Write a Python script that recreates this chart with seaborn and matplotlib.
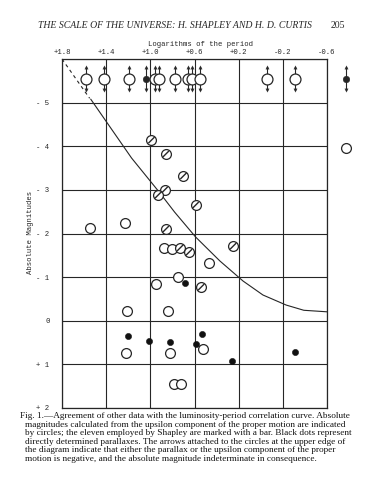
import numpy as np
import pandas as pd
import matplotlib
matplotlib.use('Agg')
import matplotlib.pyplot as plt
import seaborn as sns

# log period (x) and absolute magnitude (y)
barred_logp = [0.99, 0.86, 0.70, 0.87, 0.93, 0.59, 0.86, 0.25, 0.73, 0.65, 0.54]
barred_mag = [-4.14, -3.82, -3.32, -3.00, -2.88, -2.65, -2.10, -1.71, -1.67, -1.57, -0.77]

open_logp = [1.55, 1.23, 0.88, 0.80, 0.47, 0.75, 0.95, 1.21, 0.84, 0.52, 1.22, 0.82, 0.79, 0.72, -0.77]
open_mag = [-2.12, -2.24, -1.67, -1.64, -1.32, -1.00, -0.84, -0.22, -0.22, 0.65, 0.74, 0.74, 1.45, 1.45, -3.96]

dot_logp = [0.69, 1.20, 1.01, 0.82, 0.53, 0.59, 0.26, -0.31]
dot_mag = [-0.86, 0.35, 0.47, 0.49, 0.31, 0.54, 0.93, 0.72]

# indeterminate ones along the upper edge (arrows)
top_open_logp = [1.58, 1.42, 1.19, 0.96, 0.92, 0.78, 0.66, 0.62, 0.55, -0.06, -0.31]
top_dot_logp = [1.04, -0.77]
top_mag = -5.55

# luminosity-period curve
dash_logp = [1.80, 1.55]
dash_mag = [-6.00, -5.10]
curve_logp = [1.54, 1.17, 0.92, 0.78, 0.59, 0.37, 0.16, -0.02, -0.23, -0.39, -0.63]
curve_mag = [-5.08, -3.73, -2.95, -2.49, -1.92, -1.37, -0.91, -0.59, -0.36, -0.24, -0.20]

xticks = [1.8, 1.4, 1.0, 0.6, 0.2, -0.2, -0.6]
xlabels = ['+1.8', '+1.4', '+1.0', '+0.6', '+0.2', '-0.2', '-0.6']
yticks = [-6, -5, -4, -3, -2, -1, 0, 1, 2]
ylabels = ['', '- 5', '- 4', '- 3', '- 2', '- 1', '0', '+ 1', '+ 2']

caption = [
    'Fig. 1.\u2014Agreement of other data with the luminosity-period correlation curve. Absolute',
    'magnitudes calculated from the upsilon component of the proper motion are indicated',
    'by circles; the eleven employed by Shapley are marked with a bar. Black dots represent',
    'directly determined parallaxes. The arrows attached to the circles at the upper edge of',
    'the diagram indicate that either the parallax or the upsilon component of the proper',
    'motion is negative, and the absolute magnitude indeterminate in consequence.',
]

sns.set_theme(style="white")
ink = '#262626'
mono = 'Liberation Mono'
serif = 'Liberation Serif'

fig = plt.figure(figsize=(3.77, 4.82), dpi=100)
ax = fig.add_axes([62/377, 74/482, 265/377, 349/482])

sns.lineplot(x=dash_logp, y=dash_mag, sort=False, estimator=None, ax=ax,
             color=ink, lw=0.8, ls=(0, (3, 3)))
sns.lineplot(x=curve_logp, y=curve_mag, sort=False, estimator=None, ax=ax,
             color=ink, lw=0.8)

# arrows on the top row
top_all = top_open_logp + top_dot_logp
ax.vlines(top_all, top_mag - 0.27, top_mag + 0.27, color=ink, lw=0.8, clip_on=False, zorder=3)
sns.scatterplot(x=top_all, y=[top_mag - 0.27] * len(top_all), marker='^', s=6,
                color=ink, edgecolor=ink, ax=ax, clip_on=False, zorder=3)
sns.scatterplot(x=top_all, y=[top_mag + 0.27] * len(top_all), marker='v', s=6,
                color=ink, edgecolor=ink, ax=ax, clip_on=False, zorder=3)
sns.scatterplot(x=top_open_logp, y=[top_mag] * len(top_open_logp), marker='o', s=62,
                facecolor='white', edgecolor=ink, linewidth=0.9, ax=ax, clip_on=False, zorder=4)
sns.scatterplot(x=top_dot_logp, y=[top_mag] * len(top_dot_logp), marker='o', s=22,
                color=ink, edgecolor=ink, ax=ax, clip_on=False, zorder=4)

# circles, barred circles, dots
sns.scatterplot(x=open_logp, y=open_mag, marker='o', s=50, facecolor='white',
                edgecolor=ink, linewidth=0.9, ax=ax, clip_on=False, zorder=4)
sns.scatterplot(x=barred_logp, y=barred_mag, marker='o', s=50, facecolor='white',
                edgecolor=ink, linewidth=0.9, ax=ax, zorder=4)
sns.scatterplot(x=barred_logp, y=barred_mag, marker=[(-1, -1), (1, 1)], s=20,
                facecolor='none', edgecolor=ink, linewidth=1.0, ax=ax, zorder=5)
sns.scatterplot(x=dot_logp, y=dot_mag, marker='o', s=20, color='#111111',
                edgecolor='#111111', ax=ax, zorder=5)

ax.set_xlim(1.8, -0.6)
ax.set_ylim(2, -6)
ax.xaxis.tick_top()
ax.set_xticks(xticks)
ax.set_xticklabels(xlabels, fontfamily=mono, fontsize=5.2, color=ink)
ax.set_yticks(yticks)
ax.set_yticklabels(ylabels, fontfamily=mono, fontsize=5.2, color=ink)
ax.tick_params(axis='x', length=0, pad=2)
ax.tick_params(axis='y', length=0, pad=9)
ax.grid(True, color=ink, lw=0.8)
ax.set_axisbelow(True)
for sp in ax.spines.values():
    sp.set_color(ink)
    sp.set_linewidth(0.9)
ax.set_xlabel('')
ax.set_ylabel('')

fig.text(38/377, 1 - 25/482, 'THE SCALE OF THE UNIVERSE: H. SHAPLEY AND H. D. CURTIS',
         fontfamily=serif, style='italic', fontsize=7.0, color=ink, va='center', ha='left')
fig.text(345/377, 1 - 25/482, '205', fontfamily=serif, fontsize=7.0, color=ink,
         va='center', ha='right')
fig.text(200/377, 1 - 44/482, 'Logarithms of the period', fontfamily=mono, fontsize=5.2,
         color=ink, va='center', ha='center')
fig.text(30/377, 1 - 232/482, 'Absolute Magnitudes', fontfamily=mono, fontsize=5.2,
         color=ink, va='center', ha='center', rotation=90)

for i, line in enumerate(caption):
    x0 = 20 if i == 0 else 25
    fig.text(x0/377, 1 - (416 + 8.6 * i)/482, line, fontfamily=serif, fontsize=6.7,
             color='#111111', va='center', ha='left')

fig.savefig('out.png', dpi=100, facecolor='white')
